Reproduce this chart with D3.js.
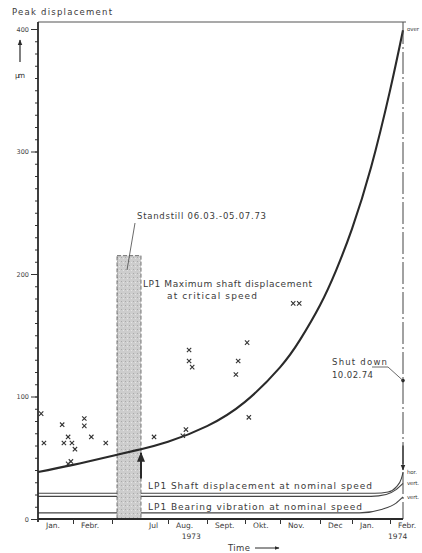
<!DOCTYPE html>
<html>
<head>
<meta charset="utf-8">
<script src="https://cdn.jsdelivr.net/npm/d3@7"></script>
<style>
  body { margin: 0; background: #fff; }
  text { font-family: "DejaVu Sans", sans-serif; fill: #3a3a3a; }
</style>
</head>
<body>
<script>
// time in months from 1 Jan 1973 (axis is broken over the standstill)
const monthStarts = [0, 1, 6.13, 7, 8, 9, 10, 11, 12, 13];
const monthLabels = ['Jan.', 'Febr.', 'Jul', 'Aug.', 'Sept.', 'Okt.', 'Nov.', 'Dec', 'Jan.', 'Febr.'];
const monthTicks = [1, 2, 7, 8, 9, 10, 11, 12, 13];
const yearLabels = [['1973', 7.35], ['1974', 12.95]];
const yTicks = [0, 100, 200, 300, 400];

// LP1 maximum shaft displacement at critical speed
const critCurve = [
    [0, 38.4], [1, 44.2], [2.17, 52.5], [6.13, 57], [7, 63], [8, 75.8],
    [9, 95.6], [10, 123.8], [10.5, 146.2], [11, 174.5], [11.5, 202.8], [12, 236.9],
    [12.5, 286.9], [13, 349.7], [13.32, 399]
];
// single measurements (x marks)
const critPoints = [
    [0.09, 86], [0.17, 62], [0.69, 77], [1.29, 82], [1.29, 76], [0.86, 67],
    [0.74, 62], [0.97, 62], [1.05, 57], [1.47, 67], [1.84, 62], [0.86, 45],
    [0.94, 47], [6.55, 67], [7.38, 68], [7.46, 73], [7.54, 138], [7.54, 129],
    [7.62, 124], [8.76, 118], [8.82, 129], [9.06, 144], [9.11, 83],
    [10.33, 176], [10.48, 176]
];
// nominal speed
const shaftHor = [[0, 21], [12.6, 21], [12.95, 22], [13.15, 26], [13.28, 33], [13.32, 38]];
const shaftVert = [[0, 18.5], [12.5, 18.5], [12.9, 20], [13.15, 24], [13.32, 29]];
const bearingVert = [[0, 5], [12.2, 5], [12.8, 8], [13.15, 13], [13.32, 18]];

const standstill = [2.17, 6.13, 215];
const shutdown = [13.32, 113];

function main() {
    const W = 422, H = 553;
    const svg = d3.select('body').append('svg').attr('width', W).attr('height', H);

    const x = d3.scaleLinear()
        .domain([0, 1, 2, 2.17, 6.13, 7, 8, 9, 10, 11, 12, 13, 13.32])
        .range([38, 73, 112, 117, 141, 168, 207, 245, 280, 320, 352, 390, 403]);
    const y = d3.scaleLinear().domain([0, 400]).range([519, 29]);

    const ink = '#2a2a2a';
    const line = d3.line().x(d => x(d[0])).y(d => y(d[1])).curve(d3.curveMonotoneX);

    // nominal speed lines
    [shaftHor, shaftVert, bearingVert].forEach(s => {
        svg.append('path').attr('d', line(s))
            .attr('fill', 'none').attr('stroke', '#444').attr('stroke-width', 1.1);
    });

    // standstill band
    const defs = svg.append('defs');
    const pat = defs.append('pattern').attr('id', 'stip')
        .attr('width', 4).attr('height', 4).attr('patternUnits', 'userSpaceOnUse');
    pat.append('rect').attr('width', 4).attr('height', 4).attr('fill', '#cdcdcd');
    pat.append('rect').attr('x', 1).attr('y', 1).attr('width', 1).attr('height', 1).attr('fill', '#aaa');
    pat.append('rect').attr('x', 3).attr('y', 2).attr('width', 1).attr('height', 1).attr('fill', '#e4e4e4');
    svg.append('rect')
        .attr('x', x(standstill[0])).attr('y', y(standstill[2]))
        .attr('width', x(standstill[1]) - x(standstill[0]))
        .attr('height', y(0) - y(standstill[2]))
        .attr('fill', 'url(#stip)')
        .attr('stroke', '#555').attr('stroke-width', 0.8).attr('stroke-dasharray', '4,2');

    // critical speed curve
    const smooth = d3.line().x(d => x(d[0])).y(d => y(d[1])).curve(d3.curveNatural);
    svg.append('path').attr('d', smooth(critCurve))
        .attr('fill', 'none').attr('stroke', ink).attr('stroke-width', 2.1);

    const sym = d3.symbol().type(d3.symbolX || d3.symbolCross).size(14);
    svg.selectAll('path.pt').data(critPoints).enter().append('path')
        .attr('class', 'pt')
        .attr('d', sym)
        .attr('transform', d => `translate(${x(d[0])},${y(d[1])})`)
        .attr('fill', 'none').attr('stroke', '#333').attr('stroke-width', 1.1);

    // shutdown dash-dot line
    svg.append('line')
        .attr('x1', x(shutdown[0])).attr('x2', x(shutdown[0]))
        .attr('y1', y(400) - 7).attr('y2', y(0))
        .attr('stroke', '#444').attr('stroke-width', 1).attr('stroke-dasharray', '22,3,2,3');
    svg.append('circle').attr('cx', x(shutdown[0])).attr('cy', y(shutdown[1]))
        .attr('r', 1.8).attr('fill', ink);

    // arrows
    defs.append('marker').attr('id', 'ah').attr('viewBox', '0 0 10 10')
        .attr('refX', 9).attr('refY', 5).attr('markerWidth', 5).attr('markerHeight', 6)
        .attr('orient', 'auto')
        .append('path').attr('d', 'M0,1 L10,5 L0,9 Z').attr('fill', ink);
    svg.append('line')
        .attr('x1', x(6.13)).attr('x2', x(6.13)).attr('y1', y(33)).attr('y2', y(54))
        .attr('stroke', ink).attr('stroke-width', 2).attr('marker-end', 'url(#ah)');
    svg.append('line')
        .attr('x1', x(shutdown[0])).attr('x2', x(shutdown[0])).attr('y1', y(60)).attr('y2', y(40))
        .attr('stroke', ink).attr('stroke-width', 1.2).attr('marker-end', 'url(#ah)');

    // top frame line
    svg.append('line').attr('x1', 38).attr('x2', 406).attr('y1', y(400) - 7).attr('y2', y(400) - 7)
        .attr('stroke', '#555').attr('stroke-width', 1.2);

    // y axis
    const yMinor = svg.append('g').attr('transform', 'translate(38,0)')
        .call(d3.axisLeft(y).tickValues(d3.range(0, 401, 10)).tickSize(3).tickFormat(''));
    yMinor.select('.domain').remove();
    yMinor.selectAll('line').attr('stroke', '#333');
    const yAx = svg.append('g').attr('transform', 'translate(38,0)')
        .call(d3.axisLeft(y).tickValues(yTicks).tickSize(7).tickPadding(2));
    yAx.select('.domain').attr('d', `M0,${y(400) - 7}V${y(0) + 3}`).attr('stroke', ink).attr('stroke-width', 1.8);
    yAx.selectAll('line').attr('stroke', '#333');
    yAx.selectAll('text').attr('font-size', 6.5).style('fill', '#444');

    // x axis
    const xAx = svg.append('g').attr('transform', `translate(0,${y(0)})`)
        .call(d3.axisBottom(x).tickValues(monthTicks).tickSize(5).tickFormat(''));
    xAx.select('.domain').attr('d', `M38,0H${x(shutdown[0])}`).attr('stroke', ink).attr('stroke-width', 1.8);
    xAx.selectAll('line').attr('stroke', '#333');

    svg.selectAll('text.mon').data(monthStarts).enter().append('text')
        .attr('class', 'mon')
        .attr('x', d => x(d) + 8).attr('y', 528)
        .attr('font-size', 7.5)
        .text((d, i) => monthLabels[i]);
    svg.selectAll('text.yr').data(yearLabels).enter().append('text')
        .attr('class', 'yr')
        .attr('x', d => x(d[1])).attr('y', 539)
        .attr('font-size', 7.5)
        .text(d => d[0]);

    // fixed-width lettering, like the stencil text of the original
    const t = (tx, ty, s, w, fs = 8.5) => {
        const el = svg.append('text').attr('x', tx).attr('y', ty).attr('font-size', fs).text(s);
        if (w) el.attr('textLength', w).attr('lengthAdjust', 'spacing');
        return el;
    };

    t(228, 551, 'Time', 22, 8.5);
    svg.append('line').attr('x1', 255).attr('x2', 279).attr('y1', 548).attr('y2', 548)
        .attr('stroke', ink).attr('stroke-width', 1).attr('marker-end', 'url(#ah)');

    // y title
    t(12, 15, 'Peak displacement', 100, 8.5);
    svg.append('line').attr('x1', 20).attr('x2', 20).attr('y1', 62).attr('y2', 40)
        .attr('stroke', ink).attr('stroke-width', 1.2).attr('marker-end', 'url(#ah)');
    t(15, 78, 'µm', 10, 7.5);

    // annotations
    t(137, 219, 'Standstill 06.03.-05.07.73', 129);
    svg.append('line').attr('x1', 135).attr('y1', 223).attr('x2', 127).attr('y2', 270)
        .attr('stroke', '#444').attr('stroke-width', 0.8);
    t(143, 287, 'LP1 Maximum shaft displacement', 169, 9);
    t(167, 299, 'at critical speed', 90, 9);
    t(332, 365, 'Shut down', 55);
    t(332, 378, '10.02.74', 41);
    svg.append('path').attr('d', `M372,367 L388,367 L${x(shutdown[0])},${y(shutdown[1])}`)
        .attr('fill', 'none').attr('stroke', '#444').attr('stroke-width', 0.8);
    t(148, 489, 'LP1 Shaft displacement at nominal speed', 224, 9);
    t(148, 510, 'LP1 Bearing vibration at nominal speed', 214, 9);
    t(407, 31, 'over', 12, 5.5);
    t(407, 474, 'hor.', 10, 5.5);
    t(407, 485, 'vert.', 12, 5.5);
    t(407, 499, 'vert.', 12, 5.5);
}

main();
</script>
</body>
</html>
